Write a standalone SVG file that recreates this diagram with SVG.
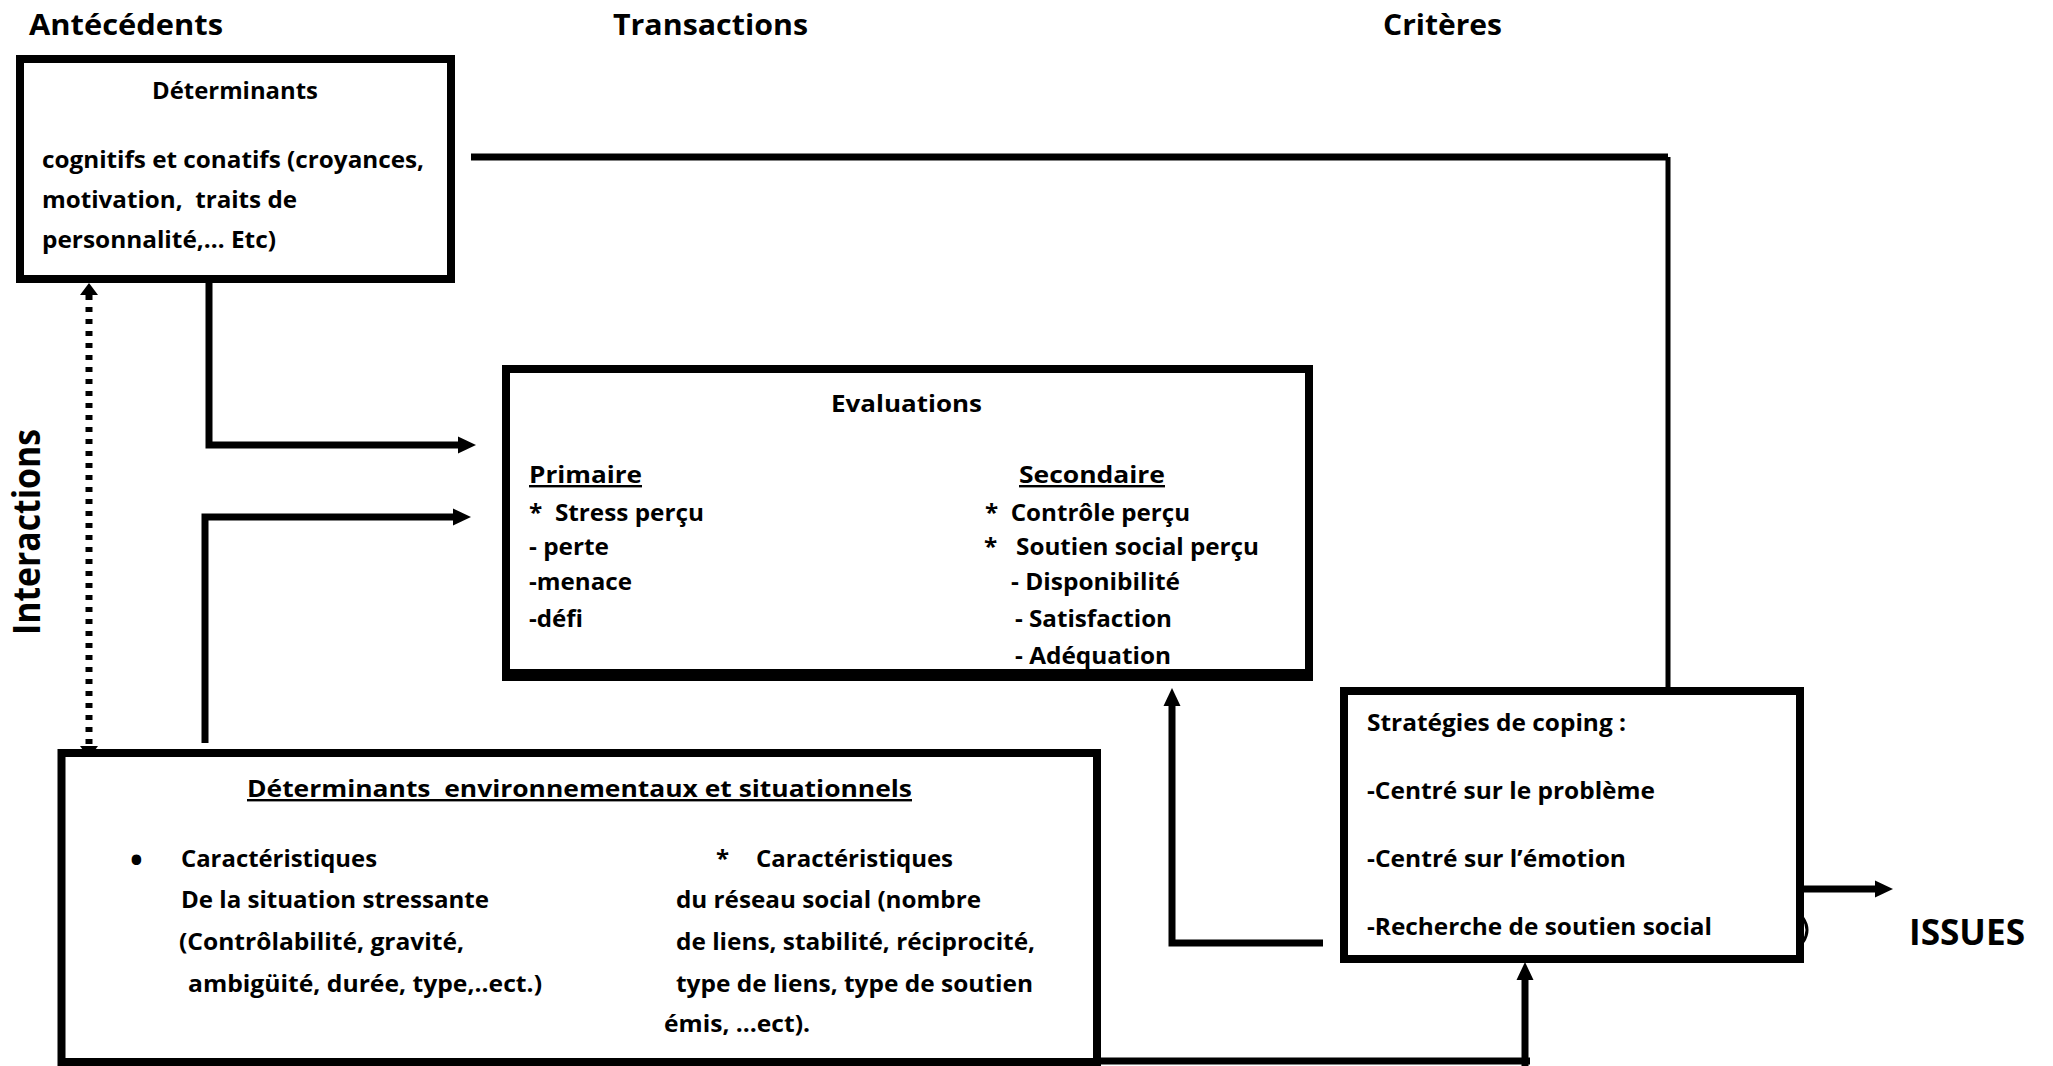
<svg xmlns="http://www.w3.org/2000/svg" width="2053" height="1066" viewBox="0 0 2053 1066">
<style>
  text { font-family: "Open Sans", "Liberation Sans", sans-serif; font-weight: 700; fill: #000; white-space: pre; }
  .b { font-size: 24px; }
  .h { font-size: 28px; }
  .u { text-decoration: underline; }
  .box { fill: #fff; stroke: #000; stroke-width: 8; }
  .ln { fill: none; stroke: #000; stroke-width: 7; }
  .thin { fill: none; stroke: #000; stroke-width: 5; }
</style>
<defs>
  <marker id="arr" markerUnits="userSpaceOnUse" markerWidth="18" markerHeight="18" refX="0" refY="8.5" orient="auto" overflow="visible">
    <path d="M0,0 L18,8.5 L0,17 Z" fill="#000"/>
  </marker>
  <marker id="arrs" markerUnits="userSpaceOnUse" markerWidth="12" markerHeight="18" refX="0" refY="9" orient="auto-start-reverse" overflow="visible">
    <path d="M0,0 L12,9 L0,18 Z" fill="#000"/>
  </marker>
</defs>
<rect width="2053" height="1066" fill="#fff"/>

<g id="headers">
  <text class="h" x="29" y="35" textLength="194" lengthAdjust="spacingAndGlyphs">Antécédents</text>
  <text class="h" x="613" y="35" textLength="195" lengthAdjust="spacingAndGlyphs">Transactions</text>
  <text class="h" x="1383" y="35" textLength="119" lengthAdjust="spacingAndGlyphs">Critères</text>
  <text x="0" y="0" font-size="38" text-anchor="middle" transform="translate(40,532) rotate(-90)" textLength="206" lengthAdjust="spacingAndGlyphs">Interactions</text>
  <text x="1909" y="945" font-size="36" textLength="116" lengthAdjust="spacingAndGlyphs">ISSUES</text>
</g>

<g id="connectors">
  <path class="ln" d="M471 157 H1668"/>
  <path class="thin" d="M1668 157 V687"/>
  <path class="ln" d="M209 283 V445 H458" marker-end="url(#arr)"/>
  <path class="ln" d="M205 743 V517 H453" marker-end="url(#arr)"/>
  <path class="ln" d="M89 295 V746" stroke-width="6" stroke-dasharray="5 7" marker-start="url(#arrs)" marker-end="url(#arrs)"/>
  <path class="ln" d="M1323 943 H1172 V706" marker-end="url(#arr)"/>
  <path class="ln" d="M1097 1061 H1530"/>
  <path class="ln" d="M1525 1066 V980" marker-end="url(#arr)"/>
  <path class="ln" d="M1804 889 H1875" marker-end="url(#arr)"/>
  <path d="M1803 918 Q1811 930 1803 942" fill="none" stroke="#000" stroke-width="3"/>
</g>

<g id="determinants">
  <rect class="box" x="20" y="59" width="431" height="220"/>
  <text class="b" x="152" y="99" textLength="166" lengthAdjust="spacingAndGlyphs">Déterminants</text>
  <text class="b" x="42" y="168" textLength="382" lengthAdjust="spacingAndGlyphs">cognitifs et conatifs (croyances,</text>
  <text class="b" x="42" y="208" textLength="255" lengthAdjust="spacingAndGlyphs">motivation,  traits de</text>
  <text class="b" x="42" y="248" textLength="234" lengthAdjust="spacingAndGlyphs">personnalité,… Etc)</text>
</g>

<g id="evaluations">
  <rect class="box" x="506" y="369" width="803" height="308"/>
  <text class="b" x="831" y="412" textLength="151" lengthAdjust="spacingAndGlyphs">Evaluations</text>
  <text class="b u" x="529" y="483" textLength="113" lengthAdjust="spacingAndGlyphs">Primaire</text>
  <text class="b" x="529" y="521" textLength="175" lengthAdjust="spacingAndGlyphs">*  Stress perçu</text>
  <text class="b" x="529" y="555" textLength="80" lengthAdjust="spacingAndGlyphs">- perte</text>
  <text class="b" x="529" y="590" textLength="103" lengthAdjust="spacingAndGlyphs">-menace</text>
  <text class="b" x="529" y="627" textLength="54" lengthAdjust="spacingAndGlyphs">-défi</text>
  <text class="b u" x="1019" y="483" textLength="146" lengthAdjust="spacingAndGlyphs">Secondaire</text>
  <text class="b" x="985" y="521" textLength="205" lengthAdjust="spacingAndGlyphs">*  Contrôle perçu</text>
  <text class="b" x="984" y="555" textLength="275" lengthAdjust="spacingAndGlyphs">*   Soutien social perçu</text>
  <text class="b" x="1011" y="590" textLength="169" lengthAdjust="spacingAndGlyphs">- Disponibilité</text>
  <text class="b" x="1015" y="627" textLength="157" lengthAdjust="spacingAndGlyphs">- Satisfaction</text>
  <text class="b" x="1015" y="664" textLength="156" lengthAdjust="spacingAndGlyphs">- Adéquation</text>
  <path d="M502 673 H1313" stroke="#000" stroke-width="8"/>
</g>

<g id="environnement">
  <rect class="box" x="61.5" y="753" width="1035.5" height="309"/>
  <text class="b u" x="247" y="797" textLength="665" lengthAdjust="spacingAndGlyphs">Déterminants  environnementaux et situationnels</text>
  <text x="130" y="872" font-size="34">•</text>
  <text class="b" x="181" y="867" textLength="196" lengthAdjust="spacingAndGlyphs">Caractéristiques</text>
  <text class="b" x="181" y="908" textLength="308" lengthAdjust="spacingAndGlyphs">De la situation stressante</text>
  <text class="b" x="179" y="950" textLength="285" lengthAdjust="spacingAndGlyphs">(Contrôlabilité, gravité,</text>
  <text class="b" x="188" y="992" textLength="354" lengthAdjust="spacingAndGlyphs">ambigüité, durée, type,..ect.)</text>
  <text class="b" x="716" y="867">*</text>
  <text class="b" x="756" y="867" textLength="197" lengthAdjust="spacingAndGlyphs">Caractéristiques</text>
  <text class="b" x="676" y="908" textLength="305" lengthAdjust="spacingAndGlyphs">du réseau social (nombre</text>
  <text class="b" x="676" y="950" textLength="359" lengthAdjust="spacingAndGlyphs">de liens, stabilité, réciprocité,</text>
  <text class="b" x="676" y="992" textLength="357" lengthAdjust="spacingAndGlyphs">type de liens, type de soutien</text>
  <text class="b" x="664" y="1032" textLength="146" lengthAdjust="spacingAndGlyphs">émis, …ect).</text>
</g>

<g id="coping">
  <rect class="box" x="1344" y="691" width="456" height="268"/>
  <text class="b" x="1367" y="731" textLength="259" lengthAdjust="spacingAndGlyphs">Stratégies de coping :</text>
  <text class="b" x="1367" y="799" textLength="288" lengthAdjust="spacingAndGlyphs">-Centré sur le problème</text>
  <text class="b" x="1367" y="867" textLength="259" lengthAdjust="spacingAndGlyphs">-Centré sur l’émotion</text>
  <text class="b" x="1367" y="935" textLength="345" lengthAdjust="spacingAndGlyphs">-Recherche de soutien social</text>
</g>
</svg>
